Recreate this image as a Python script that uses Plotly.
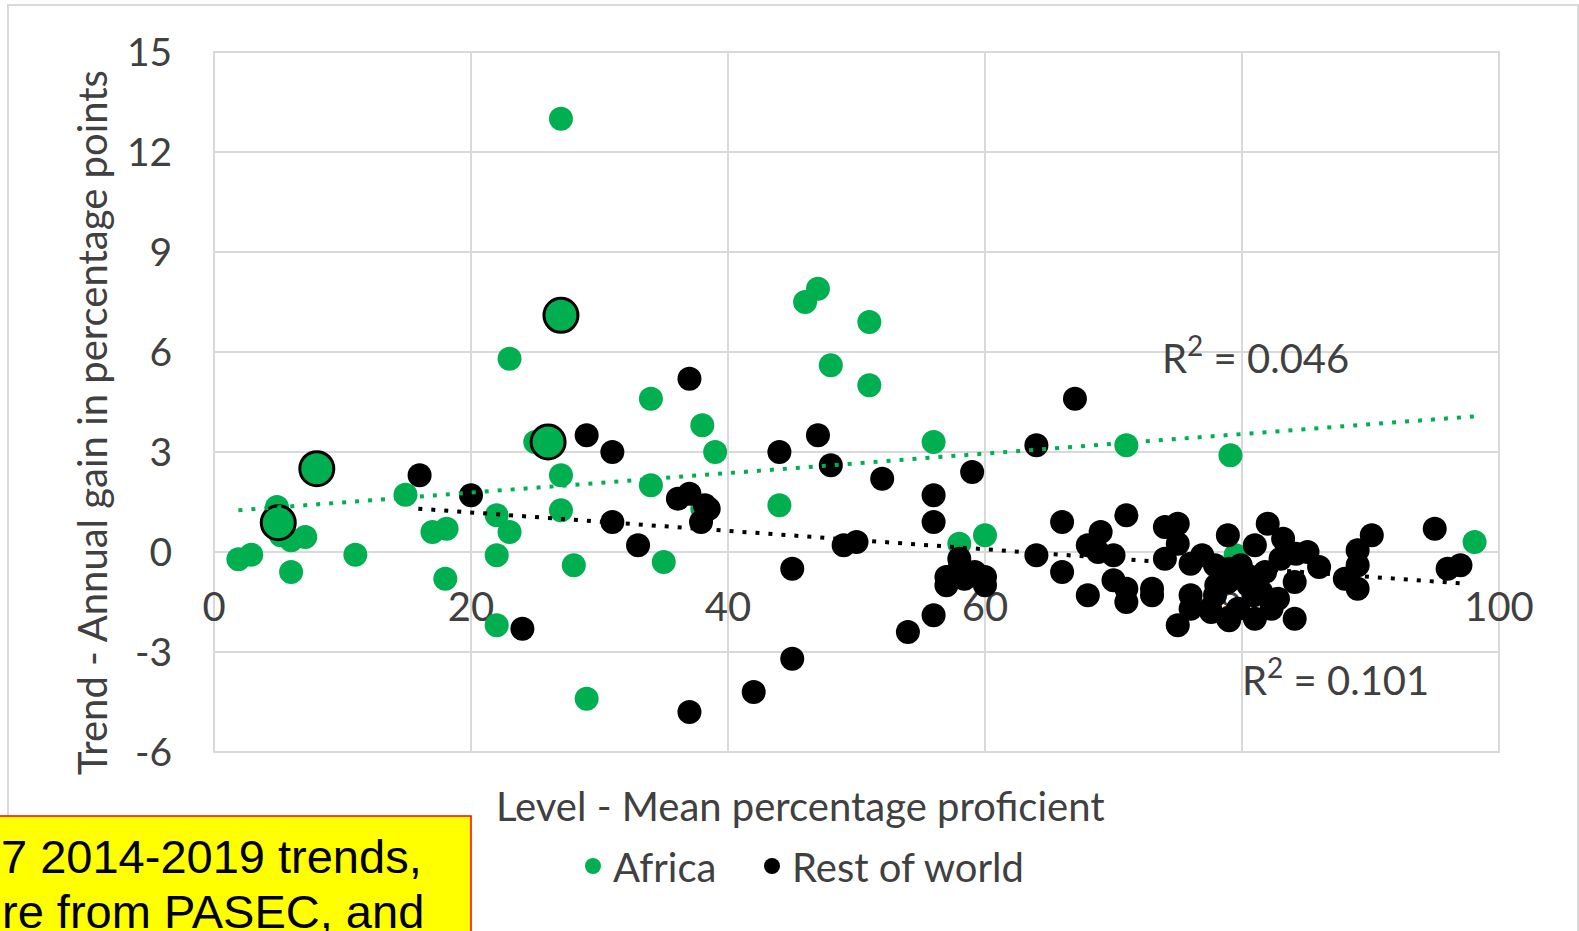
import plotly.graph_objects as go

# ---------------- data ----------------
africa_x = [1.9, 2.9, 4.9, 5.2, 6.0, 7.1, 6.0, 11.0, 14.9, 17.0, 18.1, 18.0,
            22.0, 23.0, 22.0, 22.0, 25.0, 27.0, 27.0, 28.0, 29.0, 34.0, 34.0,
            35.0, 38.0, 39.0, 38.0, 44.0, 51.0, 56.0, 58.0, 60.0, 71.0, 79.1,
            79.5, 98.1, 27.0, 23.0, 46.0, 47.0, 51.0, 48.0]
africa_y = [-0.22, -0.08, 1.35, 0.5, 0.35, 0.45, -0.6, -0.08, 1.72, 0.6, 0.7, -0.8,
            1.1, 0.6, -0.1, -2.2, 3.3, 2.3, 1.25, -0.4, -4.4, 4.6, 2.0,
            -0.3, 3.8, 3.0, 1.3, 1.4, 5.0, 3.3, 0.25, 0.5, 3.2, 2.9,
            -0.1, 0.3, 13.0, 5.8, 7.5, 7.9, 6.9, 5.6]

highlight_x = [5.0, 8.0, 26.0, 27.0]
highlight_y = [0.88, 2.5, 3.3, 7.1]

world_x = [16.0, 20.0, 24.0, 29.0, 31.0, 31.0, 33.0, 36.1, 37.0, 38.2, 38.5, 37.9,
           37.0, 44.0, 47.0, 48.0, 52.0, 49.0, 50.0, 45.0, 45.0, 42.0, 37.0,
           64.0, 67.0, 56.0, 56.0, 59.0,
           58.0, 57.0, 57.0, 58.4, 60.0, 60.0, 58.0, 59.2,
           56.0, 54.0,
           64.0, 66.0, 66.0, 68.0, 68.0, 69.0, 68.8, 70.0, 71.0, 70.0, 71.0, 71.0,
           73.0, 73.0,
           74.0, 75.0, 74.0, 75.0, 76.0, 76.0, 76.0, 75.0,
           76.9, 77.9, 78.9, 77.9, 78.9, 77.6, 78.9, 79.7, 79.9, 80.5, 81.0, 81.0,
           81.5, 81.8, 82.0, 82.3, 82.8, 83.2, 84.1, 84.1, 85.1, 86.0, 88.0, 89.0,
           89.0, 89.0, 90.1, 95.0, 96.0, 97.0,
           78.0, 79.0, 80.9, 80.4, 84.2, 77.5, 79.0, 83.0]
world_y = [2.3, 1.7, -2.3, 3.5, 3.0, 0.9, 0.2, 1.6, 1.75, 1.4, 1.3, 0.9,
           5.2, 3.0, 3.5, 2.6, 2.2, 0.2, 0.3, -0.5, -3.2, -4.2, -4.8,
           3.2, 4.6, 1.7, 0.9, 2.4,
           -0.2, -0.75, -1.0, -0.8, -0.75, -1.0, -0.5, -0.6,
           -1.9, -2.4,
           -0.1, 0.9, -0.6, -1.3, 0.2, 0.6, 0.0, -0.1, 1.1, -0.85, -1.1, -1.5,
           -1.1, -1.3,
           0.75, 0.85, -0.2, 0.25, -0.35, -1.3, -1.7, -2.2,
           -0.1, -0.4, 0.5, -1.3, -0.9, -1.8, -2.0, -1.7, -0.4, -1.0, 0.2, -2.0,
           -1.2, -0.6, 0.85, -1.7, -1.4, 0.4, -0.9, -2.0, 0.0, -0.45, -0.8, 0.05,
           -0.4, -1.1, 0.5, 0.7, -0.5, -0.4,
           -1.0, -0.5, -1.3, -0.7, -0.05, -1.7, -2.05, -0.2]

africa_trend_x = [1.9, 98.1]
africa_trend_y = [1.25, 4.07]
world_trend_x = [15.9, 97.0]
world_trend_y = [1.3, -0.94]

x_ticks = [0, 20, 40, 60, 80, 100]
x_tick_labels = ["0", "20", "40", "60", "80", "100"]
y_ticks = [-6, -3, 0, 3, 6, 9, 12, 15]
y_tick_labels = ["-6", "-3", "0", "3", "6", "9", "12", "15"]

r2_africa = "R<sup>2</sup> = 0.046"
r2_world = "R<sup>2</sup> = 0.101"

# ---------------- styling ----------------
GREEN = "#00B050"
GRID = "#d9d9d9"
TXT = "#404040"
FONT = "Lato"

fig = go.Figure()

fig.add_trace(go.Scatter(x=africa_x, y=africa_y, mode="markers", name="Africa", legend="legend",
                         marker=dict(color=GREEN, size=24, line=dict(width=0))))
fig.add_trace(go.Scatter(x=world_x, y=world_y, mode="markers", name="Rest of world", legend="legend2",
                         marker=dict(color="black", size=24, line=dict(width=0))))
fig.add_trace(go.Scatter(x=highlight_x, y=highlight_y, mode="markers", showlegend=False,
                         marker=dict(color=GREEN, size=34, line=dict(width=3, color="black"))))
fig.add_trace(go.Scatter(x=africa_trend_x, y=africa_trend_y, mode="lines", showlegend=False,
                         line=dict(color=GREEN, width=4, dash="4px,9px")))
fig.add_trace(go.Scatter(x=world_trend_x, y=world_trend_y, mode="lines", showlegend=False,
                         line=dict(color="black", width=4, dash="4px,9px")))

L, R, T, B = 214, 80, 52, 179
W, H = 1579, 931
PW, PH = W - L - R, H - T - B


def px2paper(X, Y):
    return (X - L) / PW, (H - B - Y) / PH


legend_common = dict(orientation="h", xanchor="left", yanchor="middle",
                     font=dict(size=40, color=TXT), bgcolor="rgba(0,0,0,0)",
                     itemsizing="trace")

fig.update_layout(
    width=W, height=H,
    margin=dict(l=L, r=R, t=T, b=B, pad=0, autoexpand=False),
    paper_bgcolor="white", plot_bgcolor="white",
    font=dict(family=FONT, size=40, color=TXT),
    showlegend=True,
    legend=dict(x=px2paper(573, 0)[0], y=px2paper(0, 866)[1], **legend_common),
    legend2=dict(x=px2paper(752, 0)[0], y=px2paper(0, 866)[1], **legend_common),
    xaxis=dict(range=[0, 100], tickvals=x_ticks, ticktext=x_tick_labels,
               showgrid=True, gridcolor=GRID, gridwidth=2,
               zeroline=False, showline=False, anchor="free", position=6 / 21,
               ticks="outside", ticklen=20, tickcolor="rgba(0,0,0,0)",
               tickfont=dict(size=40, color=TXT), layer="below traces"),
    yaxis=dict(range=[-6, 15], tickvals=y_ticks, ticktext=y_tick_labels,
               showgrid=True, gridcolor=GRID, gridwidth=2,
               zeroline=False, showline=False, ticks="outside", ticklen=33,
               tickcolor="rgba(0,0,0,0)", tickfont=dict(size=39, color=TXT),
               layer="below traces"),
)

shapes = []
# plot-area border
shapes.append(dict(type="rect", xref="paper", yref="paper", x0=0, x1=1, y0=0, y1=1,
                   line=dict(color=GRID, width=2), layer="below"))
# outer chart border
x0, y1 = px2paper(8, 5)
x1, y0 = px2paper(1578, 990)
shapes.append(dict(type="rect", xref="paper", yref="paper", x0=x0, x1=x1, y0=y0, y1=y1,
                   line=dict(color=GRID, width=2), layer="below"))
# yellow callout box
bx0, by1 = px2paper(-10, 816)
bx1, by0 = px2paper(471, 990)
shapes.append(dict(type="rect", xref="paper", yref="paper", x0=bx0, x1=bx1, y0=by0, y1=by1,
                   fillcolor="#FFFF00", line=dict(color="#FF0000", width=1.5), layer="above"))
fig.update_layout(shapes=shapes)

ann = []
ax, ay = px2paper(92, 423)
ann.append(dict(x=ax, y=ay, xref="paper", yref="paper", text="Trend - Annual gain in percentage points",
                textangle=-90, showarrow=False, font=dict(size=40, color=TXT),
                xanchor="center", yanchor="middle"))
ax, ay = px2paper(800, 806)
ann.append(dict(x=ax, y=ay, xref="paper", yref="paper", text="Level - Mean percentage proficient",
                showarrow=False, font=dict(size=40, color=TXT), xanchor="center", yanchor="middle"))
ax, ay = px2paper(1160, 355)
ann.append(dict(x=ax, y=ay, xref="paper", yref="paper", text=r2_africa, showarrow=False,
                font=dict(size=40, color=TXT), xanchor="left", yanchor="middle"))
ax, ay = px2paper(1240, 677)
ann.append(dict(x=ax, y=ay, xref="paper", yref="paper", text=r2_world, showarrow=False,
                font=dict(size=40, color=TXT), xanchor="left", yanchor="middle"))
ax, ay = px2paper(424, 856)
ann.append(dict(x=ax, y=ay, xref="paper", yref="paper", text="7 2014-2019 trends,", showarrow=False,
                font=dict(size=47, color="black", family="Liberation Sans"),
                xanchor="right", yanchor="middle"))
ax, ay = px2paper(426, 911)
ann.append(dict(x=ax, y=ay, xref="paper", yref="paper", text="re from PASEC, and", showarrow=False,
                font=dict(size=47, color="black", family="Liberation Sans"),
                xanchor="right", yanchor="middle"))
fig.update_layout(annotations=ann)

fig.write_html("out.html", config={"displayModeBar": False},
               post_script="document.body.style.margin='0px';document.body.style.overflow='hidden';")
